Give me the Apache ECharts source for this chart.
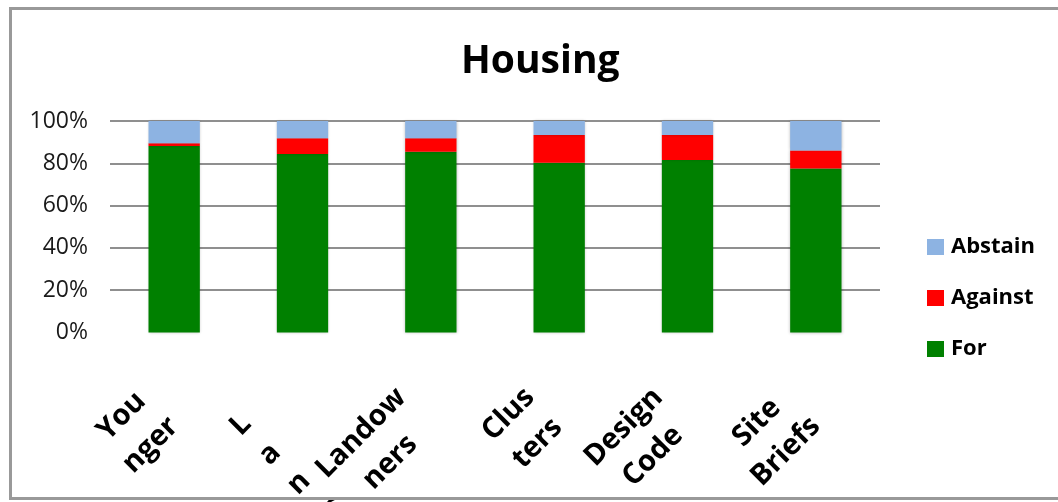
<!DOCTYPE html>
<html>
<head>
<meta charset="utf-8">
<script src="https://cdn.jsdelivr.net/npm/echarts@6/dist/echarts.min.js"></script>
<style>
html,body{margin:0;padding:0;background:#fff;}
#chart{width:1058px;height:502px;}
</style>
</head>
<body>
<div id="chart"></div>
<script>
var categories = ['Younger', 'Lanes', 'Landowners', 'Clusters', 'Design Code', 'Site Briefs'];
var tickLabels = ['You\nnger', 'L\na\nn\nes', 'Landow\nners', 'Clus\nters', 'Design\nCode', 'Site\nBriefs'];
var forValues = [88.2, 84.4, 85.5, 80.3, 81.6, 77.6];
var againstValues = [1.3, 7.4, 6.3, 13.1, 11.8, 8.5];
var abstainValues = [10.5, 8.2, 8.2, 6.6, 6.6, 13.9];
var yTicks = [0, 20, 40, 60, 80, 100];
var titleText = 'Housing';

var FONT = '"Open Sans", "Noto Sans", sans-serif';
var chart = echarts.init(document.getElementById('chart'), null, {renderer: 'canvas'});

var barStyle = function (color) {
  return {color: color, shadowBlur: 3, shadowColor: 'rgba(0,0,0,0.25)'};
};

// the narrow wrapped "Lanes" label sits a little further back from its tick
var categoryItems = categories.map(function (c, i) {
  var narrow = tickLabels[i].split('\n').length > 2;
  return {
    value: c,
    textStyle: {align: 'right', verticalAlign: 'top', padding: [0, narrow ? 92 : 62, 0, 0]}
  };
});

chart.setOption({
  animation: false,
  backgroundColor: '#fff',
  title: {
    text: titleText,
    left: 456,
    top: 33,
    textStyle: {fontFamily: FONT, fontSize: 39, fontWeight: 'bold', color: '#000', lineHeight: 48}
  },
  legend: {
    orient: 'vertical',
    left: 922,
    top: 229,
    itemWidth: 17,
    itemHeight: 16,
    itemGap: 25,
    icon: 'rect',
    data: ['Abstain', 'Against', 'For'],
    textStyle: {fontFamily: FONT, fontSize: 22, fontWeight: 'bold', color: '#000', lineHeight: 26, padding: [0, 0, 0, 2]}
  },
  grid: {left: 110, right: 178, top: 121, bottom: 169.5, containLabel: false, outerBoundsMode: 'none'},
  xAxis: {
    type: 'category',
    data: categoryItems,
    axisLine: {show: false},
    axisTick: {show: false},
    axisLabel: {
      interval: 0,
      rotate: 45,
      margin: 2,
      align: 'right',
      verticalAlign: 'top',
      padding: [0, 62, 0, 0],
      formatter: function (v, i) {
        return tickLabels[i].split('\n').map(function (s) { return '{c|' + s + '}'; }).join('\n');
      },
      rich: {
        c: {align: 'center', fontFamily: FONT, fontSize: 29, fontWeight: 'bold', color: '#000', lineHeight: 41}
      }
    }
  },
  yAxis: {
    type: 'value',
    min: yTicks[0],
    max: yTicks[yTicks.length - 1],
    interval: yTicks[1] - yTicks[0],
    axisLine: {show: false},
    axisTick: {show: false},
    axisLabel: {
      margin: 22,
      fontFamily: FONT,
      fontSize: 23,
      color: '#1a1a1a',
      formatter: '{value}%'
    },
    splitLine: {show: true, showMinLine: false, lineStyle: {color: '#8f8f8f', width: 2}}
  },
  series: [
    {name: 'For', type: 'bar', stack: 'total', barWidth: '40%', data: forValues, itemStyle: barStyle('#008000')},
    {name: 'Against', type: 'bar', stack: 'total', barWidth: '40%', data: againstValues, itemStyle: barStyle('#ff0000')},
    {name: 'Abstain', type: 'bar', stack: 'total', barWidth: '40%', data: abstainValues, itemStyle: barStyle('#8db3e2')}
  ],
  graphic: [{
    type: 'rect',
    z: 100,
    silent: true,
    shape: {x: 10.5, y: 8.5, width: 1100, height: 490},
    style: {fill: 'none', stroke: '#999', lineWidth: 3}
  }]
});
</script>
</body>
</html>
